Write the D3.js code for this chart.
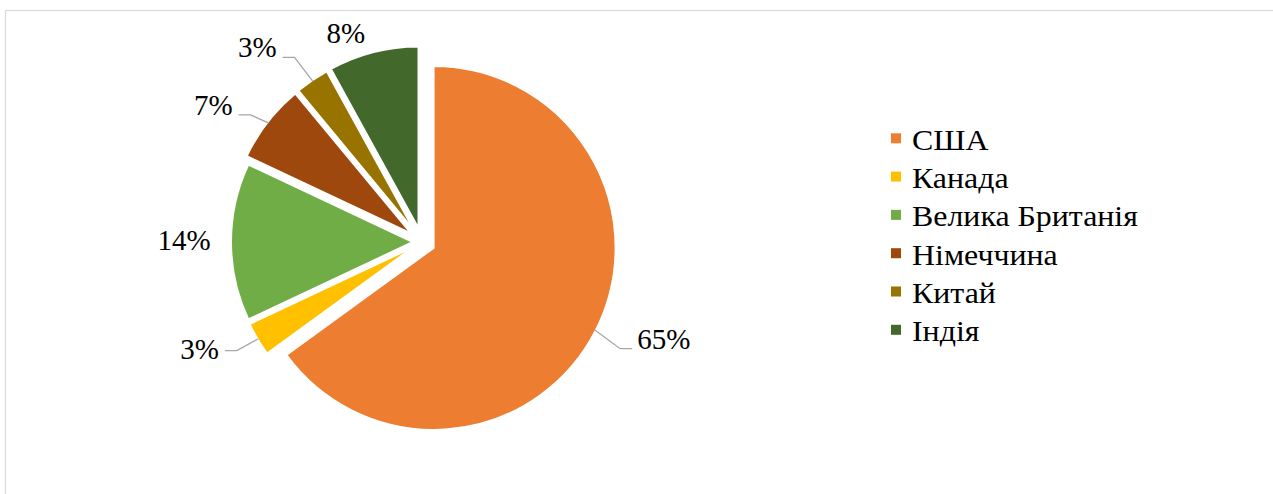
<!DOCTYPE html>
<html>
<head>
<meta charset="utf-8">
<script src="https://cdn.jsdelivr.net/npm/d3@7"></script>
<style>
  html, body { margin: 0; padding: 0; background: #fff; }
</style>
</head>
<body>
<svg id="chart" width="1273" height="494"></svg>
<script>
// ---- data ----
const categories = ["США", "Канада", "Велика Британія", "Німеччина", "Китай", "Індія"];
const values = [65, 3, 14, 7, 3, 8];
const labels = ["65%", "3%", "14%", "7%", "3%", "8%"];
const colors = ["#ED7D31", "#FFC000", "#70AD47", "#9E480E", "#997300", "#43682B"];

// ---- layout ----
const W = 1273, H = 494;
const cx = 422, cy = 242, R = 182;
const explode = [13, 9, 9, 13.5, 13.5, 14];          // px each slice is pulled out
const labelAngle = [112.0, 244.2, 270.4, 303.2, 319.8, 339.9]; // degrees, clockwise from top
const labelRadius = [260.7, 247.1, 238, 249.5, 255.3, 222];
const hasLeader = [true, true, false, true, true, false];
const leaderDy = [9, 1, 0, 9.5, 10.4, 0];
const fontSize = 29;
const FONT = "'Times New Roman', 'Liberation Serif', 'DejaVu Serif', serif";

const svg = d3.select("#chart");
svg.append("rect").attr("width", W).attr("height", H).attr("fill", "#fff");
svg.append("rect")
  .attr("x", 5.5).attr("y", 10.5).attr("width", W + 10).attr("height", H + 10)
  .attr("fill", "none").attr("stroke", "#d9d9d9").attr("stroke-width", 1.2);

const pie = d3.pie().sort(null).value(d => d);
const arcs = pie(values);
const arc = d3.arc().innerRadius(0).outerRadius(R);

const polar = (a, r) => [Math.sin(a) * r, -Math.cos(a) * r];
const deg = Math.PI / 180;

const g = svg.append("g").attr("transform", `translate(${cx},${cy})`);

g.selectAll("path.slice").data(arcs).enter().append("path")
  .attr("class", "slice")
  .attr("d", arc)
  .attr("fill", (d, i) => colors[i])
  .attr("stroke", "#fff").attr("stroke-width", 2).attr("stroke-linejoin", "miter")
  .attr("transform", (d, i) => {
    const mid = (d.startAngle + d.endAngle) / 2;
    const [ox, oy] = polar(mid, explode[i]);
    return `translate(${ox},${oy})`;
  });

// labels
const lab = g.selectAll("text.lbl").data(arcs).enter().append("text")
  .attr("class", "lbl")
  .attr("text-anchor", "middle")
  .attr("font-family", FONT)
  .style("font-family", FONT)
  .attr("font-size", fontSize)
  .attr("fill", "#000")
  .attr("x", (d, i) => polar(labelAngle[i] * deg, labelRadius[i])[0])
  .attr("y", (d, i) => polar(labelAngle[i] * deg, labelRadius[i])[1] + fontSize * 0.338)
  .text((d, i) => labels[i]);

// leader lines
lab.each(function (d, i) {
  if (!hasLeader[i]) return;
  const bb = this.getBBox();
  const lx = polar(labelAngle[i] * deg, labelRadius[i]);
  const mid = (d.startAngle + d.endAngle) / 2;
  const [ox, oy] = polar(mid, explode[i]);
  const [sx, sy] = polar(mid, R - 1);
  const start = [ox + sx, oy + sy];
  const y = lx[1] + leaderDy[i];
  const rightSide = start[0] > lx[0];
  const endX = rightSide ? bb.x + bb.width + 6 : bb.x - 5;
  const elbowX = rightSide ? endX + 12 : endX - 12;
  g.append("path")
    .attr("d", d3.line()([[endX, y], [elbowX, y], start]))
    .attr("fill", "none").attr("stroke", "#A6A6A6").attr("stroke-width", 1.3);
});

// legend
const legX = 891, legY0 = 138.3, legStep = 38.3;
const leg = svg.append("g");
const items = leg.selectAll("g").data(categories).enter().append("g")
  .attr("transform", (d, i) => `translate(${legX},${legY0 + i * legStep})`);
items.append("rect").attr("x", 0).attr("y", -5).attr("width", 10).attr("height", 10)
  .attr("fill", (d, i) => colors[i]);
items.append("text")
  .attr("transform", "translate(21,11.5) scale(1.1,1)")
  .attr("font-family", FONT)
  .style("font-family", FONT)
  .attr("font-size", fontSize).attr("fill", "#000").text(d => d);
</script>
</body>
</html>
